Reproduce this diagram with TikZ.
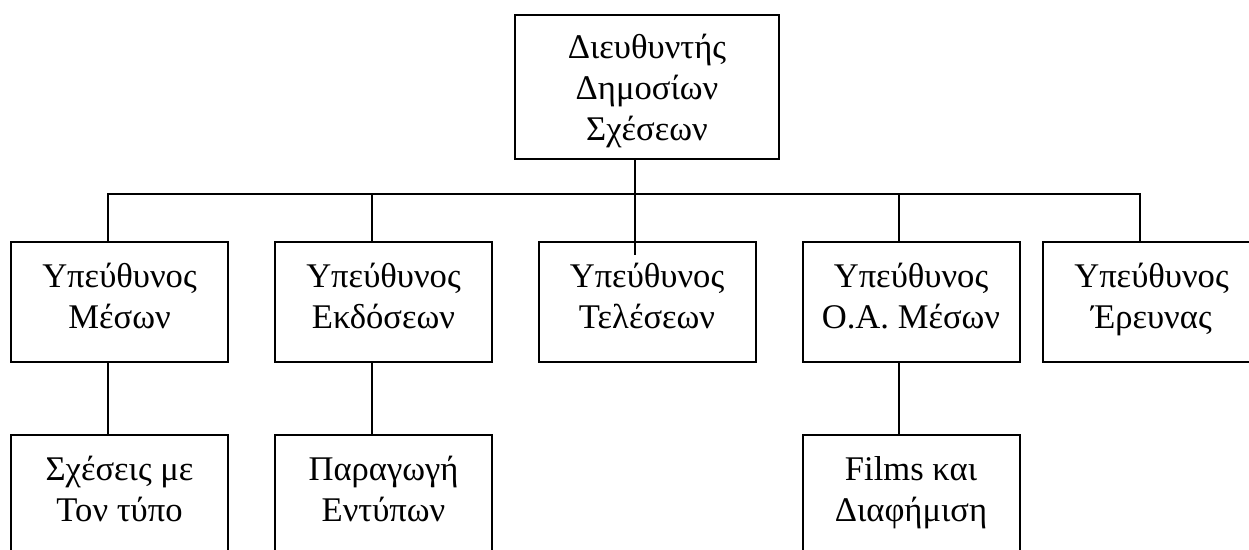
\documentclass[tikz,border=0pt]{standalone}
\usepackage{fontspec}
\setmainfont{Liberation Serif}
\begin{document}
\begin{tikzpicture}[x=0.5pt, y=-0.5pt,
        unit/.style = {draw, rectangle, minimum width=108.5pt, minimum height=60pt, inner sep=0pt, outer sep=0pt, node contents={}},
        head/.style = {unit, minimum width=132pt, minimum height=72pt},
        lbl/.style = {anchor=north, inner sep=0pt, yshift=-10pt, align=center, font=\fontsize{17.3}{20.5}\selectfont},
        line width=1pt
        ]
        \useasboundingbox (0,0) rectangle (1249,550);
        \clip (0,0) rectangle (1249,550);

        \node (dir) at (647,87)      [head, label={[lbl, yshift=1pt]north:Διευθυντής\\Δημοσίων\\Σχέσεων}];

        \node (mesa) at (119.5,302)  [unit, label={[lbl]north:Υπεύθυνος\\Μέσων}];
        \node (ekd) at (383.5,302)   [unit, label={[lbl]north:Υπεύθυνος\\Εκδόσεων}];
        \node (tel) at (647,302)     [unit, label={[lbl]north:Υπεύθυνος\\Τελέσεων}];
        \node (oam) at (911,302)     [unit, label={[lbl]north:Υπεύθυνος\\Ο.Α. Μέσων}];
        \node (ere) at (1151.5,302)  [unit, label={[lbl]north:Υπεύθυνος\\Έρευνας}];

        \node (typos) at (119.5,495) [unit, label={[lbl]north:Σχέσεις με\\Τον τύπο}];
        \node (entyp) at (383.5,495) [unit, label={[lbl]north:Παραγωγή\\Εντύπων}];
        \node (films) at (911,495)   [unit, label={[lbl]north:Films και\\Διαφήμιση}];

        \coordinate (bus) at (635,194);

        % from the head down to the bus (and into the middle box)
        \draw ([xshift=-6pt]dir.south) -- ([xshift=-6pt, yshift=-6.5pt]tel.north);
        \draw ([xshift=-6pt]mesa.north) |- (bus) -| ([xshift=-6pt]ere.north);
        \draw ([xshift=-6pt]ekd.north) -- ([xshift=-6pt]ekd.north |- bus);
        \draw ([xshift=-6pt]oam.north) -- ([xshift=-6pt]oam.north |- bus);

        % second level
        \draw ([xshift=-6pt]mesa.south) -- ([xshift=-6pt]typos.north);
        \draw ([xshift=-6pt]ekd.south) -- ([xshift=-6pt]entyp.north);
        \draw ([xshift=-6pt]oam.south) -- ([xshift=-6pt]films.north);
    \end{tikzpicture}
\end{document}
